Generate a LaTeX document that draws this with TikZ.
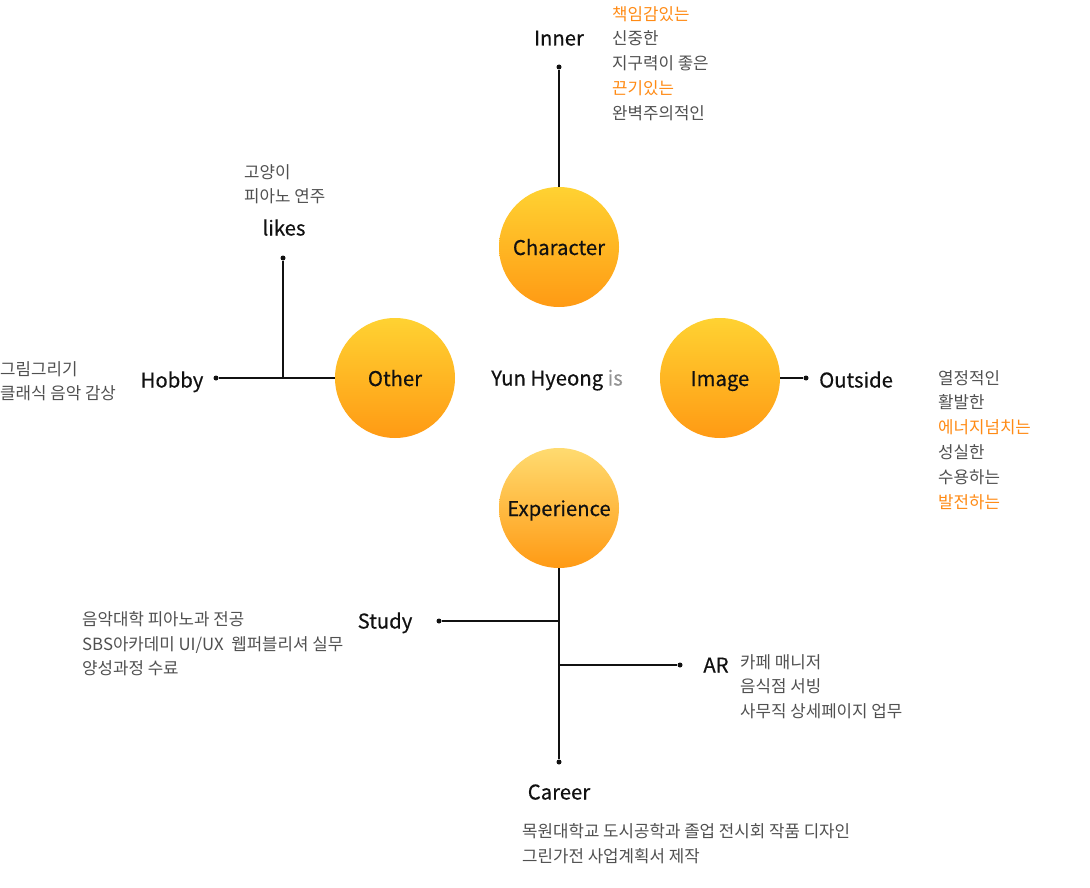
\documentclass[tikz,border=0pt]{standalone}
\usepackage{fontspec}
\setmainfont{Noto Sans CJK KR}
\newfontfamily\medfont[FakeBold=0.4]{Noto Sans CJK KR}
\usetikzlibrary{positioning}
\definecolor{ink}{HTML}{111111}
\definecolor{soft}{HTML}{505050}
\definecolor{accent}{HTML}{FF8A14}
\definecolor{sunA}{HTML}{FFD232}
\definecolor{sunB}{HTML}{FF9A14}
\definecolor{sunC}{HTML}{FFDB70}
\tikzset{
  x=1pt, y=-1pt,
  topic/.style={circle, minimum size=120pt, inner sep=0pt, top color=sunA, bottom color=sunB,
    font=\medfont\fontsize{20.3}{22}\selectfont, text=ink, text height=16pt, text depth=0pt},
  label/.style={font=\medfont\fontsize{20.3}{22}\selectfont, text=ink, inner sep=0pt,
    text height=15pt, text depth=0pt},
  items/.style={font=\fontsize{16.8}{24.9}\selectfont, text=soft, align=left, anchor=north west, inner sep=0pt},
  wire/.style={line width=1.2pt, draw=ink},
  tip/.style={circle, fill=ink, inner sep=0pt, minimum size=5pt},
}
\newcommand{\hot}[1]{\textcolor{accent}{#1}}
\begin{document}
\begin{tikzpicture}
\useasboundingbox (0,0) rectangle (1090,888);

% four topic circles round the centre
\node[topic] (character) at (559,247) {Character};
\node[topic] (other) at (395,378) {Other};
\node[topic] (image) at (720,378) {Image};
\node[topic, top color=sunC] (experience) at (559,508) {Experience};
\node[label] (title) at (557,378) {Yun Hyeong \textcolor{gray!85}{is}};

% Character -> Inner
\node[tip] (innerdot) at (559,67) {};
\draw[wire] (character) -- (innerdot);
\node[label] (inner) at (559,38) {Inner};
\node[items] (innerlist) at (612,6) {\hot{책임감있는}\\신중한\\지구력이 좋은\\\hot{끈기있는}\\완벽주의적인};

% Other -> Hobby, likes
\node[tip] (hobbydot) at (216,378) {};
\coordinate (fork) at (283,378);
\node[tip] (likesdot) at (283,258) {};
\draw[wire] (other) -- (hobbydot);
\draw[wire] (fork) -- (likesdot);
\node[label] (hobby) at (172,380) {Hobby};
\node[items] (hobbylist) at (0,361) {그림그리기\\클래식 음악 감상};
\node[label] (likes) at (284,228) {likes};
\node[items] (likeslist) at (244,164) {고양이\\피아노 연주};

% Image -> Outside
\node[tip] (outsidedot) at (806,378) {};
\draw[wire] (image) -- (outsidedot);
\node[label, anchor=west] (outside) at (819,380) {Outside};
\node[items] (outsidelist) at (938,370) {열정적인\\활발한\\\hot{에너지넘치는}\\성실한\\수용하는\\\hot{발전하는}};

% Experience -> Study, AR, Career
\node[tip] (careerdot) at (559,762) {};
\coordinate (studyfork) at (559,621);
\coordinate (arfork) at (559,665);
\node[tip] (studydot) at (439,621) {};
\node[tip] (ardot) at (680,665) {};
\draw[wire] (experience) -- (careerdot);
\draw[wire] (studyfork) -- (studydot);
\draw[wire] (arfork) -- (ardot);
\node[label] (study) at (385,621) {Study};
\node[items] (studylist) at (82,611) {음악대학 피아노과 전공\\SBS아카데미 UI/UX\ \ 웹퍼블리셔 실무\\양성과정 수료};
\node[label] (ar) at (716,665) {AR};
\node[items] (arlist) at (740,654) {카페 매니저\\음식점 서빙\\사무직 상세페이지 업무};
\node[label] (career) at (559,792) {Career};
\node[items] (careerlist) at (522,823) {목원대학교 도시공학과 졸업 전시회 작품 디자인\\그린가전 사업계획서 제작};
\end{tikzpicture}
\end{document}
